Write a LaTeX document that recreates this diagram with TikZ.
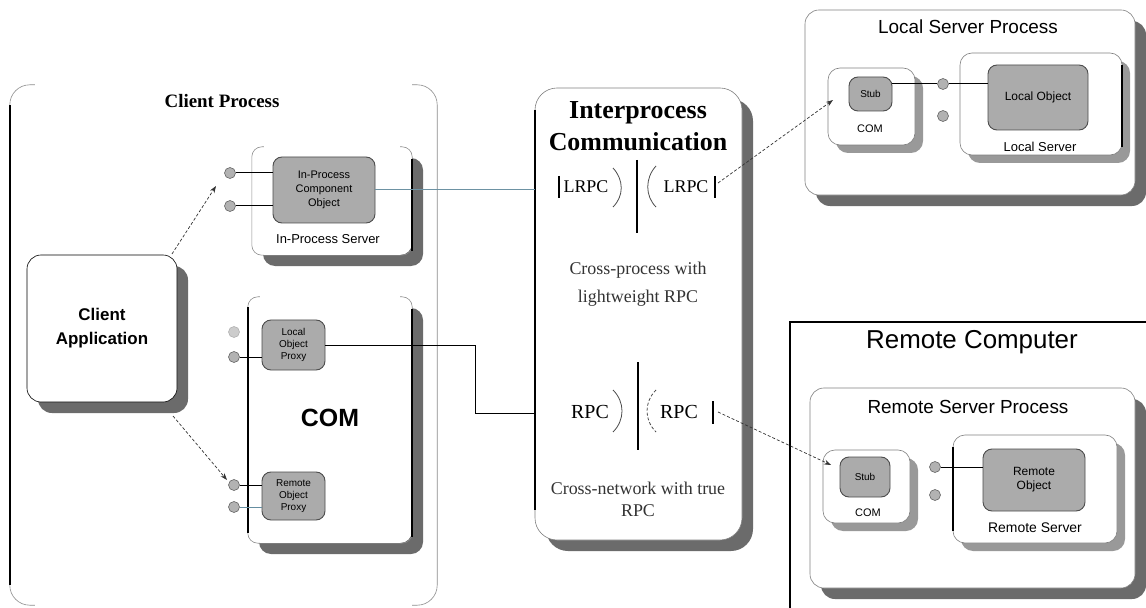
\documentclass[tikz,border=0pt]{standalone}
\usepackage{fontspec}
\setmainfont{Liberation Serif}
\setsansfont{Liberation Sans}
\usetikzlibrary{shadows,arrows.meta,calc}
\tikzset{
  shad/.style={drop shadow={shadow xshift=11bp, shadow yshift=-11bp, fill=black!58, opacity=1}},
  smallshad/.style={drop shadow={shadow xshift=8bp, shadow yshift=-8bp, fill=black!40, opacity=1}},
  frame/.style={draw=black!50, line width=0.6bp, fill=white, rounded corners=12bp, inner sep=0pt},
  blank/.style={fill=white, rounded corners=12bp, inner sep=0pt},
  obj/.style={draw=black!70, line width=0.9bp, fill=black!33, rounded corners=9bp, inner sep=1bp,
    align=center, font=\sffamily\fontsize{10}{12}\selectfont},
  iface/.style={circle, minimum size=11bp, inner sep=0pt, fill=black!30, draw=black!60, line width=0.6bp},
  lbl/.style={font=\sffamily\fontsize{13}{15}\selectfont, inner sep=0pt},
  link/.style={line width=1bp, black},
  darr/.style={dash pattern=on 3bp off 2bp, line width=0.7bp, black!80, -{Stealth[length=7bp,width=5bp]}},
  thickside/.style={line width=1.8bp, black},
  thinside/.style={line width=0.6bp, black!45},
  sym/.style={line width=0.8bp, black!70},
}
\begin{document}
\begin{tikzpicture}[x=1bp,y=-1bp]
\useasboundingbox[fill=white] (0,0) rectangle (1146,608);

% ---------- Client Process ----------
\node[inner sep=0pt, minimum width=427bp, minimum height=520bp] (cp) at (223.5,345) {};
\draw[thinside, rounded corners=20bp] ([xshift=25bp]cp.north west) -- (cp.north west) -- (cp.south west) -- ([xshift=25bp]cp.south west);
\draw[thickside] ([yshift=-20bp]cp.north west) -- ([yshift=20bp]cp.south west);
\draw[thinside, rounded corners=20bp] ([xshift=-25bp]cp.north east) -- (cp.north east) -- (cp.south east) -- ([xshift=-25bp]cp.south east);
\node[font=\rmfamily\bfseries\fontsize{19}{22}\selectfont] (cptitle) at (222,101) {Client Process};

% Client application
\node[frame, draw=black, rounded corners=14bp, shad, minimum width=150bp, minimum height=147bp,
      align=center, font=\sffamily\bfseries\fontsize{17}{24}\selectfont] (ca) at (102,328.5) {Client\\Application};

% In-Process Server
\node[blank, shad, minimum width=160bp, minimum height=108bp] (ips) at (332,201) {};
\draw[thinside, rounded corners=10bp] ([xshift=12bp]ips.north west) -- (ips.north west) -- (ips.south west) -- ([xshift=12bp]ips.south west);
\draw[thinside, rounded corners=10bp] ([xshift=-12bp]ips.north east) -- (ips.north east) -- (ips.south east) -- ([xshift=-12bp]ips.south east);
\draw[thickside] ([yshift=-12bp]ips.north east) -- ([yshift=4bp]ips.south east);
\node[obj, font=\sffamily\fontsize{11}{14}\selectfont, minimum width=102bp, minimum height=66bp] (ipobj) at (324,190) {In-Process\\Component\\Object};
\node[lbl] (ipslbl) at (328,239) {In-Process Server};
\node[iface] (if1) at (230,173) {};
\node[iface] (if2) at (230,206) {};
\draw[link] (if1) -- (if1 -| ipobj.west);
\draw[link] (if2) -- (if2 -| ipobj.west);

% COM (client side)
\node[blank, shad, minimum width=164bp, minimum height=246bp] (com) at (330,420) {};
\draw[thinside, rounded corners=10bp] ([xshift=12bp]com.north west) -- (com.north west) -- (com.south west) -- ([xshift=12bp]com.south west);
\draw[thinside, rounded corners=10bp] ([xshift=-12bp]com.north east) -- (com.north east) -- (com.south east) -- ([xshift=-12bp]com.south east);
\draw[thickside] ([yshift=-10bp]com.north west) -- ([yshift=10bp]com.south west);
\draw[thickside] ([yshift=-12bp]com.north east) -- ([yshift=6bp]com.south east);
\node[font=\sffamily\bfseries\fontsize{25}{28}\selectfont] (comlbl) at (330,418) {COM};
\node[obj, minimum width=63bp, minimum height=50bp] (lproxy) at (293.5,345) {Local\\Object\\Proxy};
\node[obj, minimum width=63bp, minimum height=48bp] (rproxy) at (293.5,496) {Remote\\Object\\Proxy};
\node[iface, draw=black!30, fill=black!20] (lif1) at (234,332) {};
\node[iface] (lif2) at (234,357) {};
\node[iface] (rif1) at (234,485) {};
\node[iface] (rif2) at (234,507) {};
\draw[link] (lif2) -- (lif2 -| lproxy.west);
\draw[link] (rif1) -- (rif1 -| rproxy.west);
\draw[link, black!35!cyan!60!gray] (rif2) -- (rif2 -| rproxy.west);

% dashed arrows from client application
\coordinate (catop) at (172,254);
\coordinate (cabot) at (173,416);
\coordinate (iptip) at (216,186);
\coordinate (rptip) at (227,480);
\draw[darr] (catop) -- (iptip);
\draw[darr] (cabot) -- (rptip);

% ---------- Interprocess Communication ----------
\node[frame, shad, rounded corners=22bp, minimum width=207bp, minimum height=452bp] (ipc) at (638.5,314) {};
\draw[thickside] ([yshift=-22bp]ipc.north west) -- ([yshift=30bp]ipc.south west);
\node[font=\rmfamily\bfseries\fontsize{26}{32}\selectfont, align=center] (ipctitle) at (638,126) {Interprocess\\Communication};

\draw[link, black!30!cyan!50!gray] (ipobj.east) -- (ipobj.east -| ipc.west);
\coordinate (bend) at (475,413);
\draw[link] (lproxy.east) -| (bend) -- (bend -| ipc.west);

% LRPC
\node[font=\rmfamily\fontsize{18}{20}\selectfont, inner sep=0pt] (lrpcl) at (586,187) {LRPC};
\node[font=\rmfamily\fontsize{18}{20}\selectfont, inner sep=0pt] (lrpcr) at (686,187) {LRPC};
\draw[line width=1.2bp] (559,176) -- (559,198);
\draw[line width=1.2bp] (637,160) -- (637,233);
\draw[line width=1.2bp] (715,176) -- (715,198);
\draw[sym] (613,168) .. controls (624,180) and (624,196) .. (613,207);
\draw[sym] (656,166) .. controls (645,178) and (645,196) .. (656,207);
\node[font=\rmfamily\fontsize{18}{28}\selectfont, align=center, text=black!80] (lrpctext) at (638,284) {Cross-process with\\lightweight RPC};

% RPC
\node[font=\rmfamily\fontsize{20}{22}\selectfont, inner sep=0pt] (rpcl) at (590,412) {RPC};
\node[font=\rmfamily\fontsize{20}{22}\selectfont, inner sep=0pt] (rpcr) at (679,412) {RPC};
\draw[line width=1.2bp] (638,362) -- (638,450);
\draw[line width=1.6bp] (713,401) -- (713,424);
\draw[sym] (613,390) .. controls (625,402) and (625,420) .. (613,432);
\draw[sym, dash pattern=on 3bp off 2bp] (656,390) .. controls (644,402) and (644,420) .. (656,432);
\node[font=\rmfamily\fontsize{18}{22}\selectfont, align=center, text=black!80] (rpctext) at (638,499) {Cross-network with true\\RPC};

% ---------- Local Server Process ----------
\node[frame, shad, rounded corners=14bp, minimum width=330bp, minimum height=185bp] (lsp) at (970,102.5) {};
\node[font=\sffamily\fontsize{19}{22}\selectfont] (lsptitle) at (968,27) {Local Server Process};
\node[frame, smallshad, minimum width=87bp, minimum height=77bp] (lcom) at (871.5,106.5) {};
\node[obj, minimum width=43bp, minimum height=34bp] (lstub) at (870.5,94) {Stub};
\node[lbl, font=\sffamily\fontsize{11}{13}\selectfont] (lcomlbl) at (870,129) {COM};
\node[frame, smallshad, minimum width=162bp, minimum height=102bp] (lsrv) at (1041,104) {};
\draw[thickside] ([yshift=-12bp]lsrv.north east) -- ([yshift=8bp]lsrv.south east);
\node[obj, font=\sffamily\fontsize{12}{14}\selectfont, minimum width=100bp, minimum height=65bp] (lobj) at (1038,97.5) {Local Object};
\node[lbl] (lsrvlbl) at (1040,147) {Local Server};
\node[iface] (lsif1) at (943,84) {};
\node[iface] (lsif2) at (943,116) {};
\draw[link] (lstub.east |- lsif1) -- (lsif1);
\draw[link] (lsif1) -- (lsif1 -| lobj.west);

% ---------- Remote Computer ----------
\node[draw=black, line width=2bp, inner sep=0pt, minimum width=370bp, minimum height=300bp] (rc) at (975,472) {};
\node[font=\sffamily\fontsize{26}{30}\selectfont] (rctitle) at (972,342) {Remote Computer};
\node[frame, shad, rounded corners=14bp, minimum width=325bp, minimum height=200bp] (rsp) at (972.5,488) {};
\node[font=\sffamily\fontsize{19}{22}\selectfont] (rsptitle) at (968,407) {Remote Server Process};
\node[frame, smallshad, minimum width=87bp, minimum height=73bp] (rcom) at (866.5,486.5) {};
\node[obj, minimum width=50bp, minimum height=40bp] (rstub) at (865,477) {Stub};
\node[lbl, font=\sffamily\fontsize{11}{13}\selectfont] (rcomlbl) at (868,513) {COM};
\node[frame, smallshad, minimum width=164bp, minimum height=108bp] (rsrv) at (1035,489) {};
\draw[thickside] ([yshift=-12bp]rsrv.north west) -- ([yshift=12bp]rsrv.south west);
\node[obj, font=\sffamily\fontsize{12}{14}\selectfont, minimum width=102bp, minimum height=62bp] (robj) at (1034,480) {Remote\\Object};
\node[lbl, font=\sffamily\fontsize{14}{16}\selectfont] (rsrvlbl) at (1035,528) {Remote Server};
\node[iface] (rsif1) at (935,467) {};
\node[iface] (rsif2) at (935,495) {};
\draw[link] (rsif1) -- (rsif1 -| robj.west);

% dashed connectors from IPC to server stubs
\coordinate (lrpcend) at (718,183);
\coordinate (lstubtip) at (833,100);
\coordinate (rpcend) at (718,412);
\coordinate (rstubtip) at (831,465);
\draw[darr] (lrpcend) -- (lstubtip);
\draw[darr] (rpcend) -- (rstubtip);
\end{tikzpicture}
\end{document}
